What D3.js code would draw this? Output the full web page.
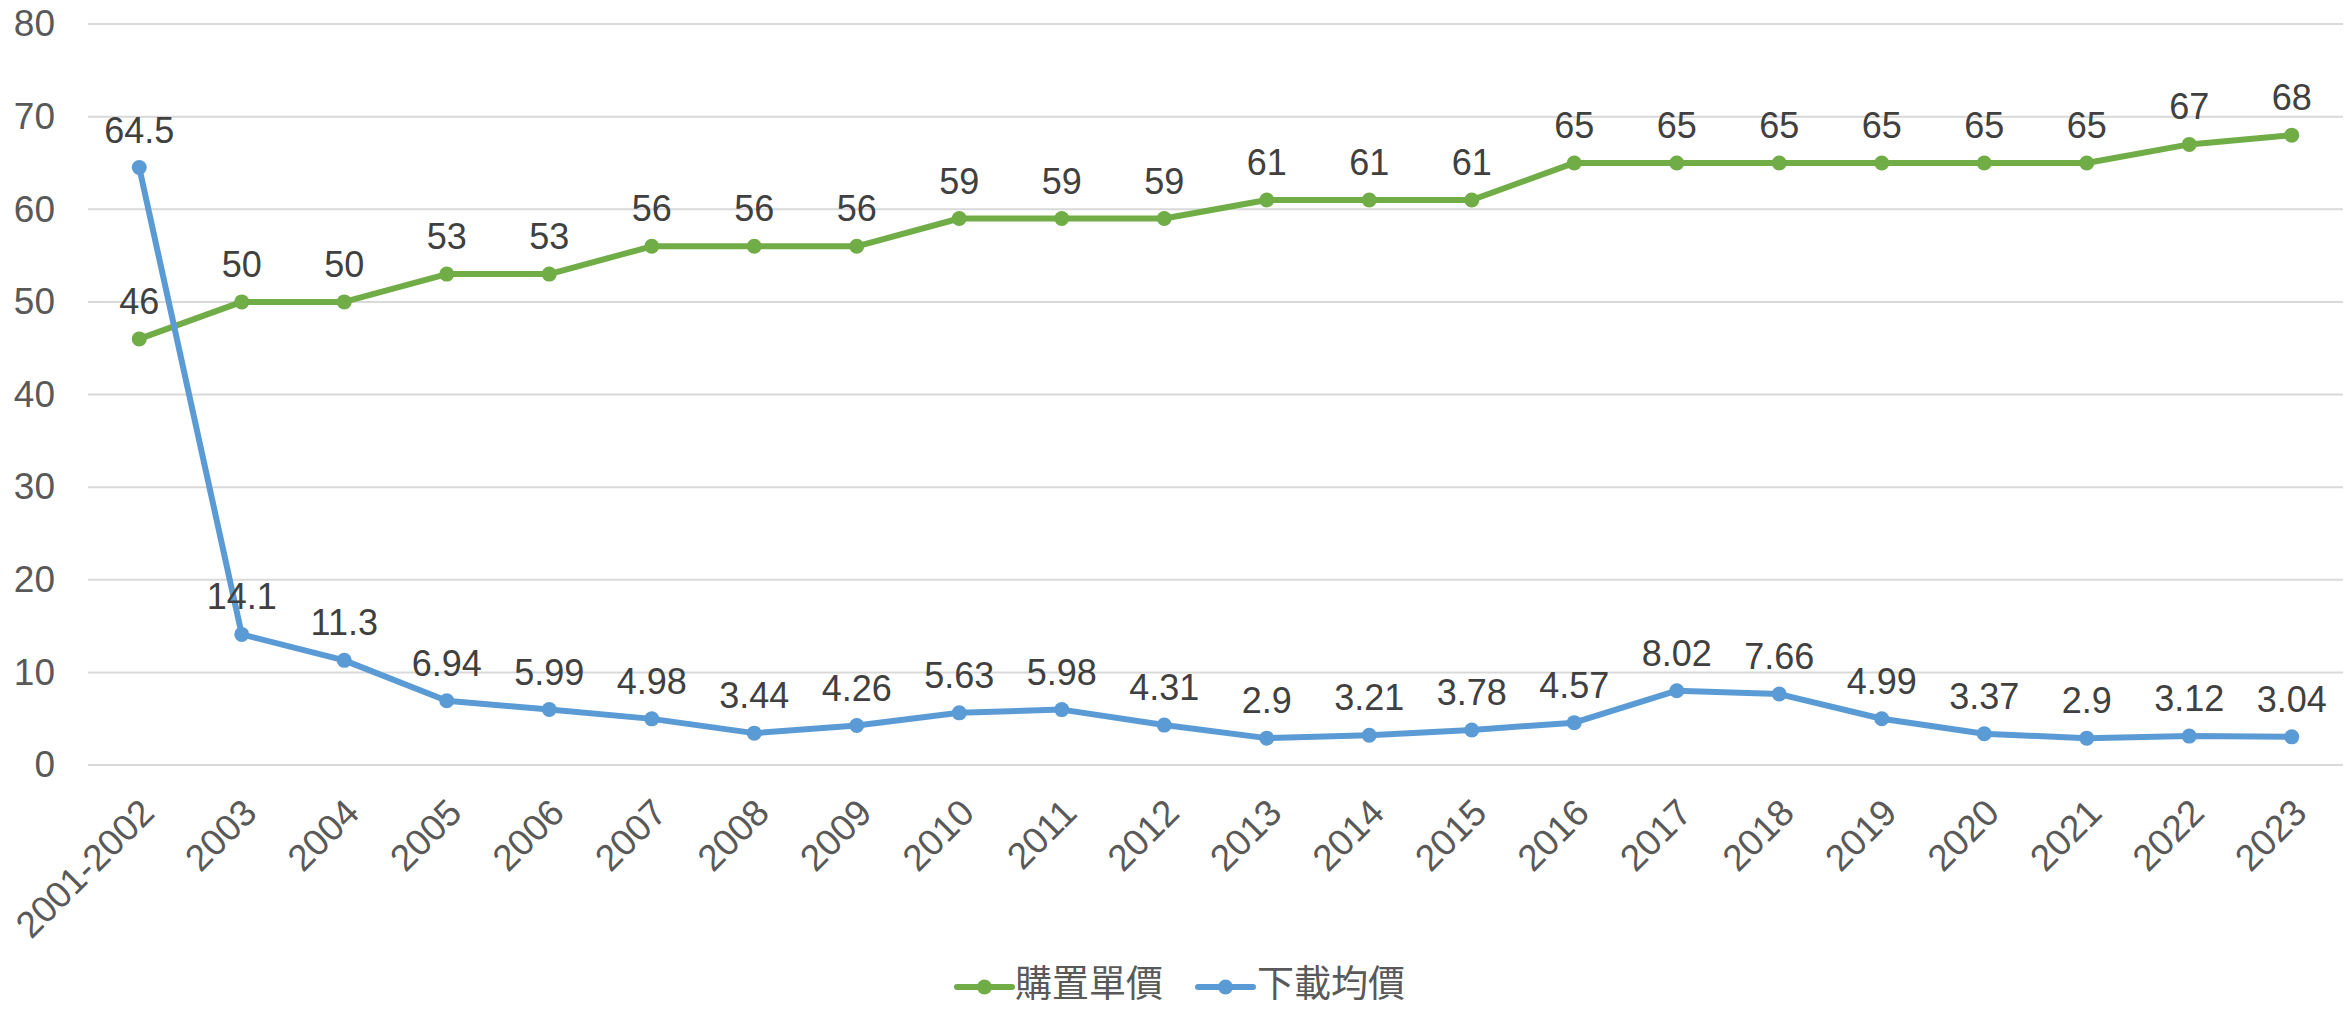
<!DOCTYPE html>
<html>
<head>
<meta charset="utf-8">
<script src="https://cdn.jsdelivr.net/npm/d3@7"></script>
<style>
  body { margin: 0; background: #fff; }
  svg { display: block; }
</style>
</head>
<body>
<div id="chart"></div>
<script>
const categories = ["2001-2002", "2003", "2004", "2005", "2006", "2007", "2008", "2009", "2010", "2011",
  "2012", "2013", "2014", "2015", "2016", "2017", "2018", "2019", "2020", "2021", "2022", "2023"];
const purchasePrice = [46, 50, 50, 53, 53, 56, 56, 56, 59, 59, 59, 61, 61, 61, 65, 65, 65, 65, 65, 65, 67, 68];
const downloadPrice = [64.5, 14.1, 11.3, 6.94, 5.99, 4.98, 3.44, 4.26, 5.63, 5.98, 4.31, 2.9, 3.21, 3.78,
  4.57, 8.02, 7.66, 4.99, 3.37, 2.9, 3.12, 3.04];
const yTicks = [0, 10, 20, 30, 40, 50, 60, 70, 80];

const series = [
  { name: "購置單價", values: purchasePrice, color: "#70AD47" },
  { name: "下載均價", values: downloadPrice, color: "#5B9BD5" }
];

const W = 2344, H = 1009;
const margin = { top: 24, right: 1, bottom: 244, left: 88 };
const width = W - margin.left - margin.right;
const height = H - margin.top - margin.bottom;

const svg = d3.select("#chart").append("svg")
  .attr("width", W)
  .attr("height", H);

const g = svg.append("g")
  .attr("transform", `translate(${margin.left},${margin.top})`);

const x = d3.scaleBand()
  .domain(categories)
  .range([0, width]);

const y = d3.scaleLinear()
  .domain([0, 80])
  .range([height, 0]);

const cx = d => x(d) + x.bandwidth() / 2;

// gridlines
g.selectAll(".grid")
  .data(yTicks)
  .enter().append("line")
  .attr("x1", 0)
  .attr("x2", width)
  .attr("y1", d => y(d))
  .attr("y2", d => y(d))
  .attr("stroke", "#d9d9d9")
  .attr("stroke-width", 2);

// y axis labels
const yAxis = g.append("g")
  .call(d3.axisLeft(y).tickValues(yTicks).tickSize(0).tickPadding(33));
yAxis.select(".domain").remove();
yAxis.selectAll("text")
  .attr("font-family", "Liberation Sans, Arial, sans-serif")
  .attr("font-size", 37)
  .attr("fill", "#595959");

// x axis labels
const xAxis = g.append("g")
  .attr("transform", `translate(0,${height})`)
  .call(d3.axisBottom(x).tickSize(0).tickPadding(0));
xAxis.select(".domain").remove();
xAxis.selectAll("text")
  .attr("font-family", "Liberation Sans, Arial, sans-serif")
  .attr("font-size", 37)
  .attr("fill", "#595959")
  .attr("text-anchor", "end")
  .attr("dy", null)
  .attr("transform", "translate(17,50) rotate(-45)");

// lines, markers, labels
series.forEach(s => {
  const line = d3.line()
    .x((d, i) => cx(categories[i]))
    .y(d => y(d));

  g.append("path")
    .datum(s.values)
    .attr("fill", "none")
    .attr("stroke", s.color)
    .attr("stroke-width", 6)
    .attr("stroke-linejoin", "round")
    .attr("d", line);

  g.selectAll(null)
    .data(s.values)
    .enter().append("circle")
    .attr("cx", (d, i) => cx(categories[i]))
    .attr("cy", d => y(d))
    .attr("r", 7.5)
    .attr("fill", s.color);

  g.selectAll(null)
    .data(s.values)
    .enter().append("text")
    .attr("x", (d, i) => cx(categories[i]))
    .attr("y", d => y(d) - 25)
    .attr("text-anchor", "middle")
    .attr("font-family", "Liberation Sans, Arial, sans-serif")
    .attr("font-size", 36)
    .attr("fill", "#404040")
    .text(d => d);
});

// legend
const legendItems = [
  { x: 957, textX: 1015 },
  { x: 1198, textX: 1257 }
];
const legendY = 987;
const legend = svg.append("g");
series.forEach((s, i) => {
  const item = legend.append("g")
    .attr("transform", `translate(${legendItems[i].x},${legendY})`);
  item.append("line")
    .attr("x1", 0)
    .attr("x2", 55)
    .attr("stroke", s.color)
    .attr("stroke-width", 6)
    .attr("stroke-linecap", "round");
  item.append("circle")
    .attr("cx", 27.5)
    .attr("r", 7.5)
    .attr("fill", s.color);
  legend.append("text")
    .attr("x", legendItems[i].textX)
    .attr("y", 997)
    .attr("font-family", "Noto Sans CJK TC, sans-serif")
    .attr("font-size", 37)
    .attr("fill", "#595959")
    .text(s.name);
});
</script>
</body>
</html>
